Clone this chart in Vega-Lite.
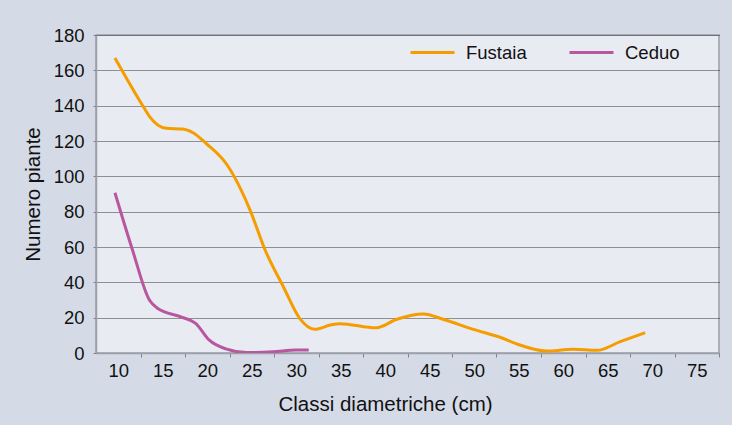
{
  "$schema": "https://vega.github.io/schema/vega-lite/v6.json",
  "autosize": {"type": "none"},
  "padding": {"left": 96, "top": 35, "right": 13, "bottom": 72},
  "width": 623,
  "height": 318,
  "background": "#d5dbe6",
  "config": {
    "font": "Liberation Sans",
    "view": {"fill": "#e8ebf2", "stroke": "#9a9fa9", "strokeWidth": 1.5}
  },
  "data": {
    "values": [
      {"serie": "Fustaia", "d": 9.63, "n": 167},
      {"serie": "Fustaia", "d": 12.93, "n": 138.5},
      {"serie": "Fustaia", "d": 13.5, "n": 134},
      {"serie": "Fustaia", "d": 15.4, "n": 127.2},
      {"serie": "Fustaia", "d": 17.24, "n": 126.8},
      {"serie": "Fustaia", "d": 18.4, "n": 124.7},
      {"serie": "Fustaia", "d": 19.86, "n": 118.7},
      {"serie": "Fustaia", "d": 22.3, "n": 106},
      {"serie": "Fustaia", "d": 23.8, "n": 92.3},
      {"serie": "Fustaia", "d": 24.8, "n": 81},
      {"serie": "Fustaia", "d": 26.5, "n": 58.3},
      {"serie": "Fustaia", "d": 28.55, "n": 37.5},
      {"serie": "Fustaia", "d": 30.4, "n": 19.5},
      {"serie": "Fustaia", "d": 32.1, "n": 13.4},
      {"serie": "Fustaia", "d": 33.8, "n": 15.8},
      {"serie": "Fustaia", "d": 34.9, "n": 16.6},
      {"serie": "Fustaia", "d": 39.0, "n": 14.3},
      {"serie": "Fustaia", "d": 41.3, "n": 19.1},
      {"serie": "Fustaia", "d": 44.3, "n": 22.1},
      {"serie": "Fustaia", "d": 46.5, "n": 19.1},
      {"serie": "Fustaia", "d": 49.9, "n": 13.4},
      {"serie": "Fustaia", "d": 52.9, "n": 8.9},
      {"serie": "Fustaia", "d": 54.8, "n": 5.1},
      {"serie": "Fustaia", "d": 58.1, "n": 1.1},
      {"serie": "Fustaia", "d": 61.1, "n": 2.1},
      {"serie": "Fustaia", "d": 63.8, "n": 1.5},
      {"serie": "Fustaia", "d": 66.4, "n": 6.4},
      {"serie": "Fustaia", "d": 69.2, "n": 11.5},
      {"serie": "Ceduo", "d": 9.63, "n": 90.7},
      {"serie": "Ceduo", "d": 11.6, "n": 58.3},
      {"serie": "Ceduo", "d": 13.5, "n": 30},
      {"serie": "Ceduo", "d": 14.4, "n": 25.3},
      {"serie": "Ceduo", "d": 17.2, "n": 20.2},
      {"serie": "Ceduo", "d": 18.7, "n": 16.8},
      {"serie": "Ceduo", "d": 20.2, "n": 7.4},
      {"serie": "Ceduo", "d": 22.1, "n": 2.3},
      {"serie": "Ceduo", "d": 24.4, "n": 0.3},
      {"serie": "Ceduo", "d": 27.4, "n": 0.7},
      {"serie": "Ceduo", "d": 30.0, "n": 1.7},
      {"serie": "Ceduo", "d": 31.4, "n": 1.7}
    ]
  },
  "mark": {"type": "line", "interpolate": "monotone", "strokeWidth": 3, "clip": true},
  "encoding": {
    "x": {
      "field": "d",
      "type": "quantitative",
      "scale": {"domain": [7.5, 77.5], "nice": false, "zero": false},
      "axis": {
        "values": [10, 15, 20, 25, 30, 35, 40, 45, 50, 55, 60, 65, 70, 75],
        "title": "Classi diametriche (cm)",
        "grid": false,
        "tickOffset": 22.25,
        "labelOffset": -22.25,
        "tickSize": 4,
        "tickColor": "#7f848c",
        "domainColor": "#9a9fa9",
        "domainWidth": 1.5,
        "labelPadding": 4,
        "labelFontSize": 18.5,
        "labelColor": "#111111",
        "labelFlush": false,
        "titleFontSize": 20.5,
        "titleFontWeight": "normal",
        "titleColor": "#111111",
        "titlePadding": 15,
        "titleX": 289
      }
    },
    "y": {
      "field": "n",
      "type": "quantitative",
      "scale": {"domain": [0, 180], "nice": false},
      "axis": {
        "values": [0, 20, 40, 60, 80, 100, 120, 140, 160, 180],
        "title": "Numero piante",
        "ticks": true,
        "tickSize": 3,
        "tickColor": "#7f848c",
        "grid": true,
        "gridColor": "#333333",
        "gridDash": [1, 1],
        "gridWidth": 1,
        "domainColor": "#9a9fa9",
        "domainWidth": 1.5,
        "labelPadding": 9,
        "labelFontSize": 18.5,
        "labelColor": "#111111",
        "labelFlush": false,
        "titleFontSize": 20.5,
        "titleFontWeight": "normal",
        "titleColor": "#111111",
        "titlePadding": 10
      }
    },
    "color": {
      "field": "serie",
      "type": "nominal",
      "scale": {"domain": ["Fustaia", "Ceduo"], "range": ["#f59d00", "#b8579e"]},
      "legend": {
        "title": null,
        "orient": "none",
        "legendX": 313,
        "legendY": -6,
        "direction": "horizontal",
        "padding": 0,
        "symbolType": "stroke",
        "symbolSize": 1936,
        "symbolStrokeWidth": 3,
        "labelFontSize": 18.5,
        "labelColor": "#111111",
        "labelOffset": 10,
        "columnPadding": 36
      }
    }
  }
}
